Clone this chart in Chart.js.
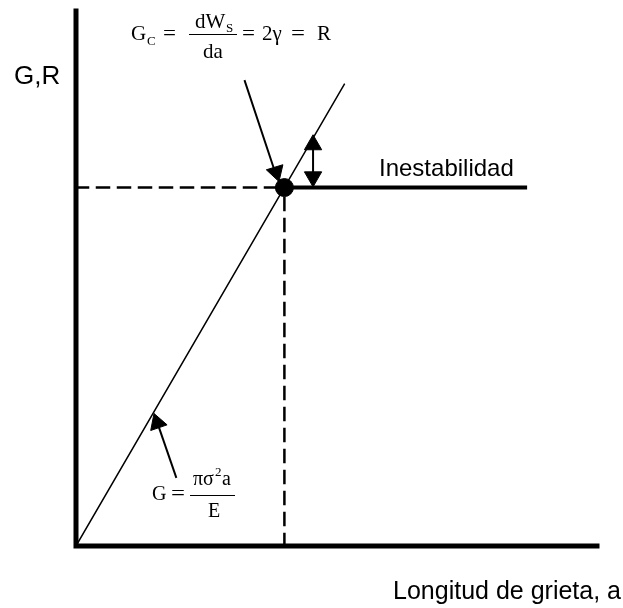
<!DOCTYPE html>
<html>
<head>
<meta charset="utf-8">
<script src="https://cdn.jsdelivr.net/npm/chart.js@4.4.1/dist/chart.umd.min.js"></script>
<style>
  body { margin: 0; background: #fff; }
  canvas { display: block; }
</style>
</head>
<body>
<canvas id="myChart" width="623" height="608"></canvas>
<script>
'use strict'
// data, in axis units (a on x, G/R on y)
let axisX = [0, 0, 10];
let axisY = [10, 0, 0];

let gLineX = [0, 5.15];       // G = pi sigma^2 a / E
let gLineY = [0, 8.63];
let rLineX = [4.0, 8.62];     // R = 2 gamma
let rLineY = [6.7, 6.7];
let critX = [4.0];            // instability point
let critY = [6.7];
let dashHX = [0, 4.0];
let dashHY = [6.7, 6.7];
let dashVX = [4.0, 4.0];
let dashVY = [0, 6.7];

let arrowTopX = [3.24, 3.8];
let arrowTopY = [8.69, 7.05];
let arrowTopHeadX = [3.84];
let arrowTopHeadY = [6.99];

let arrowGapX = [4.55, 4.55];
let arrowGapY = [7.6, 6.78];
let arrowGapUpX = [4.55];
let arrowGapUpY = [7.5];
let arrowGapDownX = [4.55];
let arrowGapDownY = [6.9];

let arrowLowX = [1.92, 1.58];
let arrowLowY = [1.29, 2.25];
let arrowLowHeadX = [1.56];
let arrowLowHeadY = [2.3];

function pts(xs, ys) {
  let out = [];
  for (let i = 0; i < xs.length; i++) {
    out.push({ x: xs[i], y: ys[i] });
  }
  return out;
}

function lineSet(xs, ys, width, dash) {
  return {
    data: pts(xs, ys),
    showLine: true,
    borderColor: '#000',
    borderWidth: width,
    borderDash: dash || [],
    pointRadius: 0,
    clip: false
  };
}

function headSet(xs, ys, rot) {
  return {
    data: pts(xs, ys),
    showLine: false,
    pointStyle: 'triangle',
    pointRadius: 10,
    pointRotation: rot,
    backgroundColor: '#000',
    borderColor: '#000',
    borderWidth: 1,
    clip: false
  };
}

// "=" of the equation editor is wider than the font's one
function wideEq(c, x, y, w) {
  let m = c.measureText('=').width;
  c.save();
  c.translate(x, y);
  c.scale(w / m, 1);
  c.fillText('=', 0, 0);
  c.restore();
}

// texts
const labels = {
  id: 'labels',
  afterDraw(chart) {
    let c = chart.ctx;
    c.save();
    c.fillStyle = '#000';
    c.strokeStyle = '#000';
    c.textBaseline = 'alphabetic';

    c.font = '26px "Liberation Sans", Arial, sans-serif';
    c.fillText('G,R', 14, 84);
    c.font = '24px "Liberation Sans", Arial, sans-serif';
    c.fillText('Inestabilidad', 379, 176);
    c.font = '25px "Liberation Sans", Arial, sans-serif';
    c.textAlign = 'right';
    c.fillText('Longitud de grieta, a', 621, 599);
    c.textAlign = 'left';

    let big = '21px "Liberation Serif", "Times New Roman", serif';
    let small = '13px "Liberation Serif", "Times New Roman", serif';

    // top formula
    c.font = big;
    c.fillText('G', 131, 40);
    c.font = small;
    c.fillText('C', 147, 45);
    c.font = big;
    wideEq(c, 163, 40, 13);
    c.fillText('dW', 195, 28);
    c.font = small;
    c.fillText('S', 226, 32);
    c.font = big;
    c.textAlign = 'center';
    c.fillText('da', 213, 58);
    c.textAlign = 'left';
    wideEq(c, 242, 40, 13);
    c.fillText('2γ', 262, 40);
    wideEq(c, 291, 40, 14);
    c.fillText('R', 317, 40);
    c.lineWidth = 1;
    c.beginPath();
    c.moveTo(189, 34.5);
    c.lineTo(237, 34.5);
    c.stroke();

    // lower formula
    c.font = '20px "Liberation Serif", "Times New Roman", serif';
    c.fillText('G', 152, 500);
    wideEq(c, 171, 500, 14);
    c.fillText('πσ', 193, 485);
    c.font = small;
    c.fillText('2', 215, 476);
    c.font = '20px "Liberation Serif", "Times New Roman", serif';
    c.fillText('a', 222, 485);
    c.textAlign = 'center';
    c.fillText('E', 214, 517);
    c.textAlign = 'left';
    c.beginPath();
    c.moveTo(190, 495.5);
    c.lineTo(235, 495.5);
    c.stroke();

    c.restore();
  }
};

const ctx = document.getElementById('myChart');

new Chart(ctx, {
  type: 'scatter',
  data: {
    datasets: [
      lineSet(dashHX, dashHY, 2.5, [12, 9]),
      lineSet(dashVX, dashVY, 2.5, [12, 9]),
      lineSet(gLineX, gLineY, 1.5),
      lineSet(rLineX, rLineY, 4),
      lineSet(axisX, axisY, 5),
      lineSet(arrowTopX, arrowTopY, 2),
      headSet(arrowTopHeadX, arrowTopHeadY, 163),
      lineSet(arrowGapX, arrowGapY, 2),
      headSet(arrowGapUpX, arrowGapUpY, 0),
      headSet(arrowGapDownX, arrowGapDownY, 180),
      lineSet(arrowLowX, arrowLowY, 2),
      headSet(arrowLowHeadX, arrowLowHeadY, -19),
      {
        data: pts(critX, critY),
        showLine: false,
        pointRadius: 9,
        backgroundColor: '#000',
        borderColor: '#000',
        clip: false
      }
    ]
  },
  options: {
    responsive: false,
    animation: false,
    devicePixelRatio: 1,
    layout: { padding: { left: 76, right: 26, top: 10, bottom: 62 } },
    plugins: { legend: { display: false }, tooltip: { enabled: false } },
    elements: { line: { borderCapStyle: 'square', tension: 0 } },
    scales: {
      x: { type: 'linear', min: 0, max: 10, display: false },
      y: { type: 'linear', min: 0, max: 10, display: false }
    }
  },
  plugins: [labels]
});
</script>
</body>
</html>
